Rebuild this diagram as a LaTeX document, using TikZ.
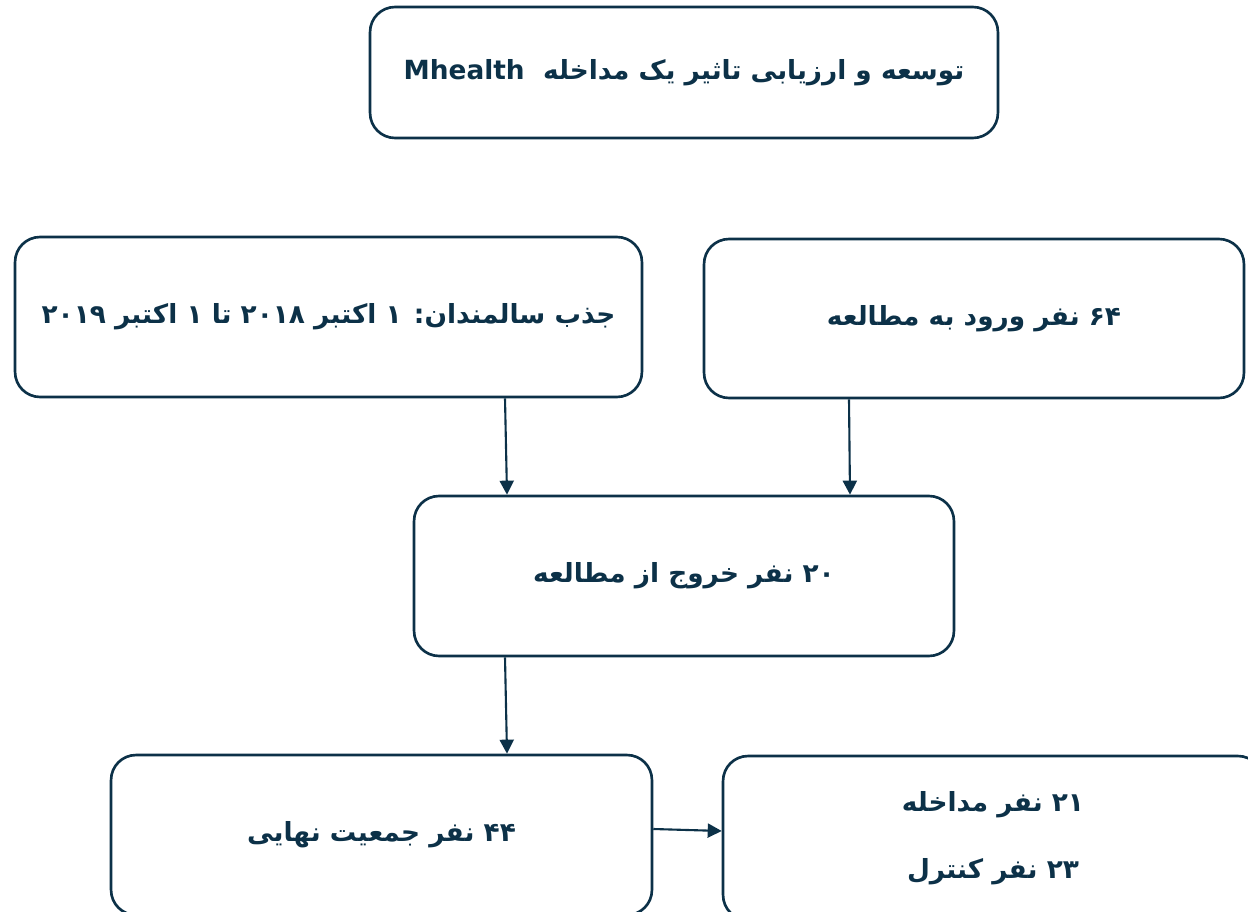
\documentclass[tikz,border=0pt]{standalone}
\usepackage{fontspec}
\usetikzlibrary{arrows.meta}
\usetikzlibrary{calc}
\newfontfamily\farsifont[Script=Arabic]{DejaVu Sans}
\TeXXeTstate=1
\definecolor{navy}{RGB}{12,49,72}

\begin{document}
\begin{tikzpicture}[x = 0.02cm, y = -0.02cm, font=\farsifont\bfseries\fontsize{15}{18}\selectfont]
	\tikzstyle{boxStyle}=[shape = rectangle, rounded corners = 0.5cm, draw = navy, line width = 1.5pt, text = navy, inner sep = 0pt, align = center]
	\tikzstyle{arrowStyle}=[-{Triangle[length = 8pt, width = 8pt]}, draw = navy, fill = navy, line width = 1.2pt]
	\useasboundingbox (0,0) rectangle (1248,912);
	\clip (0,0) rectangle (1248,912);
	\node[boxStyle, minimum width = 12.56cm, minimum height = 2.62cm] (title) at (684,72.5) {\beginR توسعه و ارزیابی تاثیر یک مداخله\ \ \beginL Mhealth\endL\endR};
	\node[boxStyle, minimum width = 12.54cm, minimum height = 3.2cm] (recruit) at (328.5,317) {\beginR جذب سالمندان: ۱ اکتبر ۲۰۱۸ تا ۱ اکتبر ۲۰۱۹\endR};
	\node[boxStyle, minimum width = 10.8cm, minimum height = 3.18cm] (enter) at (974,318.5) {\beginR ۶۴ نفر ورود به مطالعه\endR};
	\node[boxStyle, minimum width = 10.8cm, minimum height = 3.2cm] (exit) at (684,576) {\beginR ۲۰ نفر خروج از مطالعه\endR};
	\node[boxStyle, minimum width = 10.82cm, minimum height = 3.2cm] (final) at (381.5,835) {\beginR ۴۴ نفر جمعیت نهایی\endR};
	\node[boxStyle, minimum width = 10.8cm, minimum height = 3.28cm] (groups) at (993,838) {\beginR ۲۱ نفر مداخله\endR\\[20pt]\beginR ۲۳ نفر کنترل\endR};
	\draw[arrowStyle] ($(recruit.south)+(176.5,0)$) -- ($(exit.north)+(-177,0)$);
	\draw[arrowStyle] ($(enter.south)+(-125,0)$) -- ($(exit.north)+(166,0)$);
	\draw[arrowStyle] ($(exit.south)+(-179,0)$) -- ($(final.north)+(125.5,0)$);
	\draw[arrowStyle] ($(final.east)+(0,-6)$) -- ($(groups.west)+(0,-7)$);
\end{tikzpicture}
\end{document}
